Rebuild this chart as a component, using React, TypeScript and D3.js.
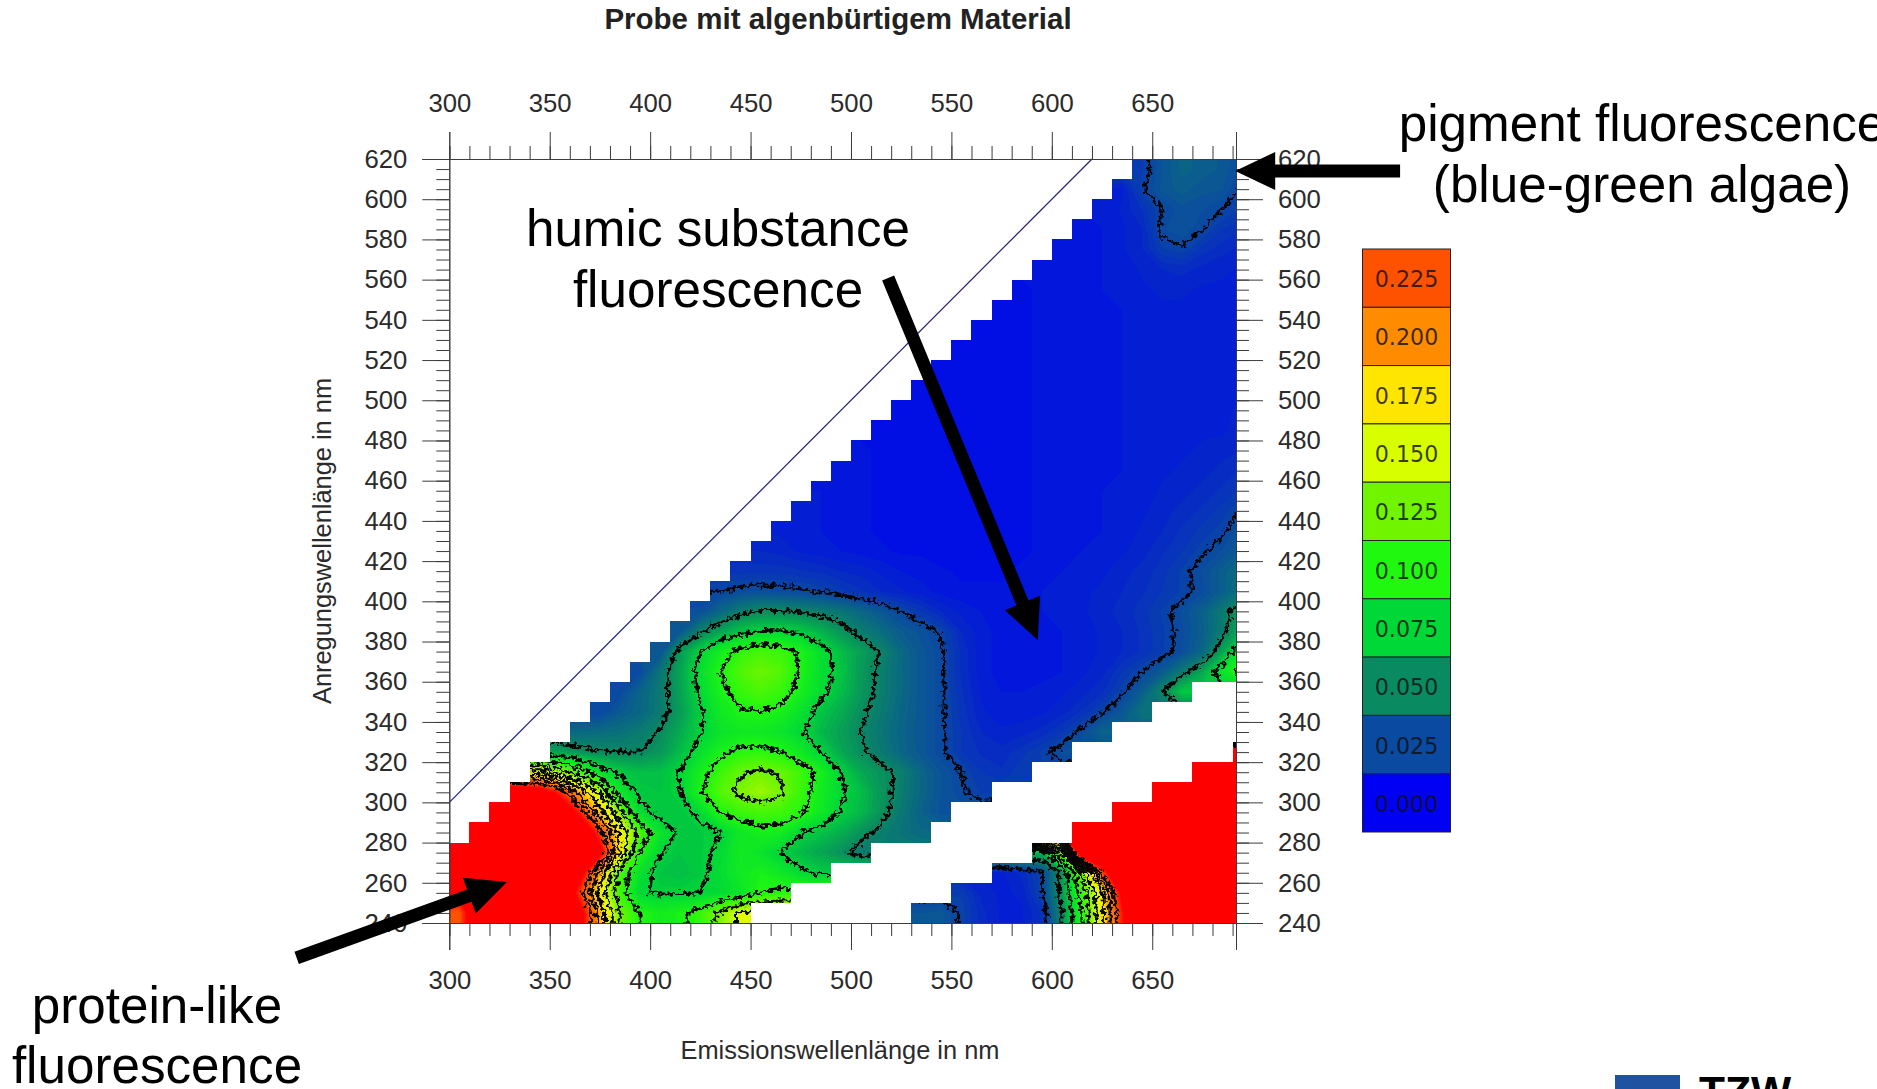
import React, { useEffect, useRef } from 'react';
import * as d3 from 'd3';

const WIDTH = 1877;
const HEIGHT = 1089;
const SANS = '"Liberation Sans", Arial, sans-serif';

// fluorescence, in thousandths, one list per excitation row.
// upper band starts at upperStart[row], lower band (scatter side) at lowerStart[row]
const ex240 = [225, 295, 300, 300, 300, 300, 265, 190, 125, 100, 92, 96, 108, 130, 155];
const ex250 = [262, 300, 300, 300, 300, 295, 235, 165, 110, 76, 74, 74, 75, 78, 85, 100, 104];
const ex260 = [300, 300, 300, 300, 300, 298, 265, 195, 115, 82, 70, 68, 72, 80, 90, 95, 88, 78, 72];
const ex270 = [300, 300, 300, 300, 300, 300, 300, 262, 170, 100, 76, 70, 72, 78, 91, 84, 74, 66, 60, 53, 45];
const ex280 = [300, 300, 300, 300, 300, 285, 235, 170, 115, 85, 72, 72, 75, 88, 94, 92, 76, 69, 63, 54, 47, 42, 38];
const ex290 = [300, 300, 300, 285, 242, 185, 132, 80, 70, 71, 78, 100, 109, 113, 111, 103, 89, 74, 66, 54, 44, 35, 29];
const ex300 = [285, 272, 240, 192, 147, 88, 72, 70, 75, 98, 117, 130, 136, 128, 109, 91, 77, 68, 55, 46, 37, 30, 26, 22];
const ex310 = [162, 137, 112, 84, 72, 68, 68, 76, 93, 110, 123, 128, 123, 111, 94, 75, 61, 54, 47, 37, 30, 25, 20, 18, 22];
const ex320 = [59, 54, 51, 50, 50, 55, 67, 82, 96, 104, 105, 100, 89, 75, 61, 52, 45, 37, 31, 26, 20, 17, 16, 19, 23, 28];
const ex330 = [38, 39, 41, 45, 51, 62, 74, 84, 89, 89, 85, 77, 66, 58, 50, 43, 36, 31, 26, 20, 15, 13, 14, 16, 20, 27, 36];
const ex340 = [25, 32, 37, 45, 57, 73, 89, 98, 100, 95, 83, 70, 62, 52, 45, 37, 31, 26, 19, 13, 11, 11, 12, 14, 18, 24, 31, 42];
const ex350 = [26, 36, 45, 59, 78, 95, 108, 115, 108, 94, 79, 68, 56, 47, 38, 31, 26, 18, 12, 10, 10, 11, 12, 14, 17, 24, 34, 50, 72];
const ex360 = [26, 43, 60, 81, 100, 116, 125, 117, 98, 81, 70, 56, 47, 38, 31, 26, 17, 11, 9, 9, 9, 10, 12, 14, 20, 25, 33, 45, 60, 85, 110];
const ex370 = [30, 56, 75, 92, 106, 113, 109, 97, 81, 68, 58, 49, 38, 31, 26, 17, 11, 9, 9, 9, 10, 11, 13, 15, 18, 22, 28, 37, 60, 90];
const ex380 = [32, 48, 60, 70, 75, 76, 72, 64, 55, 46, 40, 33, 29, 24, 15, 11, 9, 9, 9, 10, 11, 13, 15, 18, 22, 27, 34, 46, 64];
const ex390 = [28, 37, 46, 51, 51, 49, 46, 43, 37, 31, 25, 20, 15, 12, 10, 9, 9, 10, 11, 12, 14, 16, 19, 23, 28, 35, 45, 58];
const ex400 = [25, 27, 28, 27, 26, 24, 21, 18, 15, 13, 11, 9, 8, 8, 8, 9, 10, 11, 12, 13, 15, 17, 20, 23, 27, 34, 43];
const ex410 = [19, 19, 19, 18, 17, 15, 14, 12, 10, 9, 8, 7, 7, 7, 8, 9, 10, 11, 12, 14, 16, 19, 23, 28, 34, 40];
const ex420 = [15, 14, 12, 11, 10, 9, 8, 7, 7, 6, 6, 6, 7, 7, 8, 9, 10, 11, 12, 14, 17, 20, 24, 28, 34];
const ex430 = [12, 11, 10, 9, 8, 7, 7, 6, 6, 6, 6, 7, 7, 8, 8, 9, 10, 11, 13, 15, 18, 21, 24, 30];
const ex440 = [11, 10, 9, 8, 7, 7, 6, 6, 6, 6, 7, 7, 8, 8, 9, 10, 11, 12, 14, 16, 18, 21, 26];
const ex450 = [10, 9, 8, 7, 7, 6, 6, 6, 6, 7, 7, 8, 8, 9, 10, 10, 11, 13, 14, 16, 18, 21];
const ex460 = [9, 8, 7, 7, 6, 6, 6, 6, 7, 7, 8, 8, 9, 9, 10, 11, 12, 13, 14, 16, 18];
const ex470 = [8, 7, 7, 6, 6, 6, 6, 7, 7, 8, 8, 9, 9, 10, 10, 11, 12, 13, 14, 15];
const ex480 = [7, 7, 6, 6, 6, 6, 7, 7, 8, 8, 9, 9, 10, 10, 11, 11, 12, 12, 14];
const ex490 = [7, 6, 6, 6, 6, 7, 7, 8, 8, 9, 9, 10, 10, 10, 11, 11, 12, 13];
const ex500 = [6, 6, 6, 6, 7, 7, 8, 8, 9, 9, 10, 10, 10, 11, 11, 12, 12];
const ex510 = [6, 6, 6, 7, 7, 8, 8, 9, 9, 10, 10, 10, 11, 11, 11, 11];
const ex520 = [6, 6, 7, 7, 8, 8, 9, 9, 10, 10, 10, 11, 11, 11, 11];
const ex530 = [6, 7, 7, 8, 8, 9, 9, 10, 10, 11, 11, 11, 11, 11];
const ex540 = [7, 7, 8, 8, 9, 9, 10, 11, 12, 12, 11, 11, 11];
const ex550 = [7, 8, 8, 9, 10, 11, 12, 13, 13, 12, 12, 11];
const ex560 = [8, 8, 9, 10, 11, 13, 15, 16, 14, 13, 12];
const ex570 = [8, 9, 10, 12, 15, 22, 24, 19, 16, 14];
const ex580 = [9, 10, 12, 15, 27, 30, 25, 20, 18];
const ex590 = [10, 13, 18, 25, 29, 28, 25, 22];
const ex600 = [12, 24, 31, 34, 31, 30, 24];
const ex610 = [22, 30, 36, 34, 32, 26];

const low240 = [30, 31, 24, 16, 12, 12, 18, 50, 100, 170, 245, 300, 300, 300, 300, 300, 300];
const low250 = [22, 14, 12, 13, 24, 55, 110, 170, 260, 300, 300, 300, 300, 300, 300];
const low260 = [12, 16, 24, 55, 130, 230, 300, 300, 300, 300, 300, 300, 300];
const low270 = [65, 130, 280, 300, 300, 300, 300, 300, 300, 300, 300];
const low280 = [250, 300, 300, 300, 300, 300, 300, 300, 300];
const low290 = [262, 300, 300, 300, 300, 300, 300];
const low300 = [300, 300, 300, 300, 300];
const low310 = [300, 300, 300];
const low320 = [300];

const upperRows = [ex240, ex250, ex260, ex270, ex280, ex290, ex300, ex310, ex320, ex330, ex340, ex350, ex360, ex370, ex380, ex390, ex400, ex410, ex420, ex430, ex440, ex450, ex460, ex470, ex480, ex490, ex500, ex510, ex520, ex530, ex540, ex550, ex560, ex570, ex580, ex590, ex600, ex610];
const lowerRows = [low240, low250, low260, low270, low280, low290, low300, low310, low320];
const excitation = [240, 250, 260, 270, 280, 290, 300, 310, 320, 330, 340, 350, 360, 370, 380, 390, 400, 410, 420, 430, 440, 450, 460, 470, 480, 490, 500, 510, 520, 530, 540, 550, 560, 570, 580, 590, 600, 610];
const emission = [300, 310, 320, 330, 340, 350, 360, 370, 380, 390, 400, 410, 420, 430, 440, 450, 460, 470, 480, 490, 500, 510, 520, 530, 540, 550, 560, 570, 580, 590, 600, 610, 620, 630, 640, 650, 660, 670, 680, 690];
const upperStart = [300, 300, 300, 300, 310, 320, 330, 340, 350, 360, 370, 380, 390, 400, 410, 420, 430, 440, 450, 460, 470, 480, 490, 500, 510, 520, 530, 540, 550, 560, 570, 580, 590, 600, 610, 620, 630, 640];
const lowerStart = [530, 550, 570, 590, 610, 630, 650, 670, 690];

const legendValues = [0.225, 0.2, 0.175, 0.15, 0.125, 0.1, 0.075, 0.05, 0.025, 0];
const legendColors = ['#ff5200', '#ff8c00', '#ffe600', '#d8ff00', '#70f400', '#20f810', '#00d838', '#0a8a60', '#0a4aa0', '#0000f5'];
const contourLevels = [0.025, 0.05, 0.075, 0.1, 0.125, 0.15, 0.175, 0.2, 0.225];
const diagonal = [300, 620];

// arrows given in the chart's own units: [em, ex] tail, [em, ex] tip
const pigmentArrow = [[773.4, 614], [691.3, 614]];
const humicArrow = [[518.5, 560.8], [593, 380.8]];
const proteinArrow = [[224, 222.6], [328.7, 260.4]];

const xScale = d3.scaleLinear().domain([300, 691.7]).range([449.3, 1236]);
const yScale = d3.scaleLinear().domain([240, 620]).range([923, 159]);
const colorOf = d3.scaleLinear<string>()
  .domain([...legendValues].reverse().concat(0.25))
  .range([...legendColors].reverse().concat('#ff0000'))
  .clamp(true);
const legendY = d3.scaleBand<number>().domain(legendValues).range([249, 832]);

// matrix of value or null per [excitation][emission]
const cells: (number | null)[][] = excitation.map((ex, r) => {
  const row: (number | null)[] = emission.map(() => null);
  upperRows[r].forEach((v, i) => {
    row[emission.indexOf(upperStart[r]) + i] = v / 1000;
  });
  if (lowerRows[r]) {
    lowerRows[r].forEach((v, i) => {
      row[emission.indexOf(lowerStart[r]) + i] = v / 1000;
    });
  }
  return row;
});

// the contour grid can't have holes: blanks take the nearest measured cell of the row,
// they stay hidden behind the clip anyway
const filled = cells.map(row => row.map((v, i) => {
  if (v !== null) return v;
  for (let d = 1; d < row.length; d++) {
    const right = row[i + d];
    const left = row[i - d];
    if (right != null) return right;
    if (left != null) return left;
  }
  return 0;
}));

// one cell of padding round the grid, so contour lines don't run along the border
const padded = [filled[0], ...filled, filled[filled.length - 1]]
  .map(row => [row[0], ...row, row[row.length - 1]]);
const gridW = padded[0].length;
const gridH = padded.length;
const flat = padded.flat();

const gridPath = d3.geoPath(d3.geoTransform({
  point (x, y) {
    this.stream.point(xScale(290 + 10 * x), yScale(230 + 10 * y));
  }
}));

const fillLevels = d3.range(0.0025, 0.2525, 0.0025);
const fillBands = d3.contours().size([gridW, gridH]).thresholds(fillLevels)(flat);
const lineBands = d3.contours().size([gridW, gridH]).thresholds(contourLevels)(flat);

// stretches of measured cells per row, for the clip. Snapped to whole pixels,
// otherwise the row joins show up as pale seams
const segments = cells.flatMap((row, r) => {
  const out: { ex: number; from: number; to: number }[] = [];
  row.forEach((v, i) => {
    if (v === null) return;
    const em = emission[i];
    const last = out[out.length - 1];
    if (last && last.to === em) last.to = em + 10;
    else out.push({ ex: excitation[r], from: em, to: em + 10 });
  });
  return out;
});

function arrowPoints (arrow: number[][]) {
  const [x0, y0] = [xScale(arrow[0][0]), yScale(arrow[0][1])];
  const [x1, y1] = [xScale(arrow[1][0]), yScale(arrow[1][1])];
  const len = Math.hypot(x1 - x0, y1 - y0);
  const ux = (x1 - x0) / len;
  const uy = (y1 - y0) / len;
  const at = (along: number, side: number) =>
    `${x0 + ux * along - uy * side},${y0 + uy * along + ux * side}`;
  const neck = len - 40;
  return [at(0, -6.5), at(neck, -6.5), at(neck, -19), at(len, 0), at(neck, 19), at(neck, 6.5), at(0, 6.5)].join(' ');
}

function App () {
  const axesRef = useRef<SVGGElement>(null);

  useEffect(() => {
    const root = d3.select(axesRef.current);
    root.selectAll('*').remove();

    const xMinor = d3.range(300, 691, 10);
    const xMajor = d3.range(300, 651, 50);
    const yMinor = d3.range(240, 621, 5);
    const yMajor = d3.range(240, 621, 20);

    const draw = (axis: any, tx: number, ty: number) => root.append('g')
      .attr('transform', `translate(${tx},${ty})`)
      .call(axis);

    draw(d3.axisTop(xScale).tickValues(xMinor).tickSize(13).tickFormat(() => ''), 0, 159);
    draw(d3.axisBottom(xScale).tickValues(xMinor).tickSize(13).tickFormat(() => ''), 0, 923);
    draw(d3.axisLeft(yScale).tickValues(yMinor).tickSize(13).tickFormat(() => ''), 449.3, 0);
    draw(d3.axisRight(yScale).tickValues(yMinor).tickSize(13).tickFormat(() => ''), 1236, 0);
    draw(d3.axisTop(xScale).tickValues(xMajor).tickSize(27).tickPadding(20).tickFormat(d3.format('d')), 0, 159);
    draw(d3.axisBottom(xScale).tickValues(xMajor).tickSize(27).tickPadding(21).tickFormat(d3.format('d')), 0, 923);
    draw(d3.axisLeft(yScale).tickValues(yMajor).tickSize(27).tickPadding(15).tickFormat(d3.format('d')), 449.3, 0);
    draw(d3.axisRight(yScale).tickValues(yMajor).tickSize(27).tickPadding(15).tickFormat(d3.format('d')), 1236, 0);

    root.selectAll('text').attr('font-family', SANS).attr('font-size', 25.7).attr('fill', '#2b2b2b');
    root.selectAll('line, path').attr('stroke', '#3c3c3c');
  }, []);

  return (
    <svg
      width={WIDTH}
      height={HEIGHT}
      style={{ position: 'fixed', left: 0, top: 0, background: '#fff' }}
    >
      <defs>
        <clipPath id="measured">
          {segments.map(s => {
            const x0 = Math.round(xScale(s.from));
            const y0 = Math.round(yScale(s.ex + 10));
            return (
              <rect
                key={`${s.ex}-${s.from}`}
                x={x0}
                y={y0}
                width={Math.round(xScale(Math.min(s.to, 691.7))) - x0}
                height={Math.round(yScale(s.ex)) - y0}
              />
            );
          })}
        </clipPath>
        <filter
          id="jagged"
          filterUnits="userSpaceOnUse"
          x="400"
          y="100"
          width="900"
          height="880"
          colorInterpolationFilters="sRGB"
        >
          <feTurbulence type="fractalNoise" baseFrequency="0.22" numOctaves="2" seed="7" result="noise" />
          <feDisplacementMap in="SourceGraphic" in2="noise" scale="11" xChannelSelector="R" yChannelSelector="G" />
        </filter>
      </defs>

      <g clipPath="url(#measured)">
        <rect x={xScale(300)} y={yScale(620)} width={xScale(691.7) - xScale(300)} height={yScale(240) - yScale(620)} fill={colorOf(0)} />
        {fillBands.map(band => (
          <path key={band.value} d={gridPath(band) || ''} fill={colorOf(band.value)} />
        ))}
        <g filter="url(#jagged)">
          {lineBands.map(band => (
            <path key={band.value} d={gridPath(band) || ''} fill="none" stroke="#050505" strokeWidth={3} />
          ))}
        </g>
      </g>

      <line
        x1={xScale(diagonal[0])}
        y1={yScale(diagonal[0])}
        x2={xScale(diagonal[1])}
        y2={yScale(diagonal[1])}
        stroke="#20208c"
        strokeWidth={1.2}
      />

      <g ref={axesRef} />

      <text x={838} y={29} textAnchor="middle" fontFamily={SANS} fontWeight="bold" fontSize={29.5} fill="#222">
        Probe mit algenbürtigem Material
      </text>
      <text x={840} y={1059} textAnchor="middle" fontFamily={SANS} fontSize={25.4} fill="#2b2b2b">
        Emissionswellenlänge in nm
      </text>
      <text
        transform="translate(331,541) rotate(-90)"
        textAnchor="middle"
        fontFamily={SANS}
        fontSize={25.4}
        fill="#2b2b2b"
      >
        Anregungswellenlänge in nm
      </text>

      {legendValues.map((v, i) => (
        <g key={v}>
          <rect
            x={1362.5}
            y={legendY(v)}
            width={88}
            height={legendY.bandwidth()}
            fill={legendColors[i]}
            stroke="#222"
            strokeWidth={1}
          />
          <text
            x={1406.5}
            y={(legendY(v) as number) + legendY.bandwidth() / 2 + 9}
            textAnchor="middle"
            fontFamily='"DejaVu Sans", sans-serif'
            fontSize={22.2}
            fill="#111"
            fillOpacity={0.82}
          >
            {v.toFixed(3)}
          </text>
        </g>
      ))}

      <g fontFamily={SANS} fontSize={51.2} fill="#000" textAnchor="middle">
        <text x={718} y={246}>humic substance</text>
        <text x={718} y={307}>fluorescence</text>
        <text x={1642} y={141}>pigment fluorescence</text>
        <text x={1642} y={202}>(blue-green algae)</text>
        <text x={157} y={1023}>protein-like</text>
        <text x={157} y={1083}>fluorescence</text>
      </g>

      <polygon points={arrowPoints(pigmentArrow)} fill="#000" />
      <polygon points={arrowPoints(humicArrow)} fill="#000" />
      <polygon points={arrowPoints(proteinArrow)} fill="#000" />

      <rect x={1615} y={1075} width={65} height={20} fill="#1f52a0" />
      <text x={1699} y={1106} fontFamily={SANS} fontWeight="bold" fontSize={42.5} fill="#000">TZW</text>
    </svg>
  );
}

export default App;
